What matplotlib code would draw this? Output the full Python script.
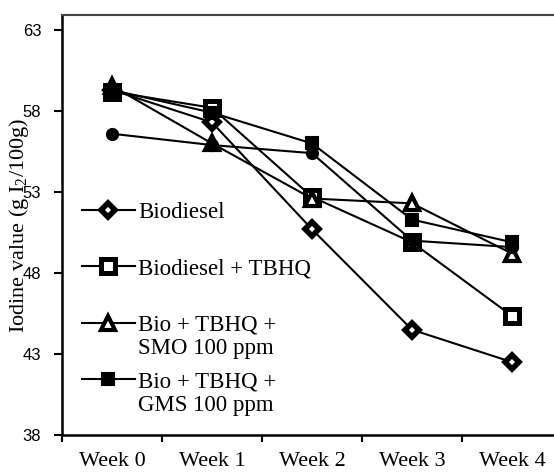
import numpy as np
import matplotlib
matplotlib.use('Agg')
import matplotlib.pyplot as plt

## data
weeks = ['Week 0', 'Week 1', 'Week 2', 'Week 3', 'Week 4']
biodiesel = [59.3, 57.3, 50.7, 44.5, 42.5]
bio_tbhq = [59.2, 58.2, 52.7, 49.9, 45.35]
bio_tbhq_smo = [59.55, 56.0, 52.6, 52.3, 49.2]
bio_tbhq_gms = [59.3, 57.9, 56.0, 51.3, 49.9]
extra_series = [56.6, 55.9, 55.4, 50.0, 49.6]   ## 5th series, no legend entry

labels = ['Biodiesel', 'Biodiesel + TBHQ',
          'Bio + TBHQ +\nSMO 100 ppm', 'Bio + TBHQ +\nGMS 100 ppm']

serif = 'Liberation Serif'
sans = 'Liberation Sans'
plt.rcParams['mathtext.fontset'] = 'custom'
plt.rcParams['mathtext.rm'] = serif

## marker styles (order = drawing order)
styles = [
    dict(marker='D', ms=7, mew=4, mfc='white'),
    dict(marker='s', ms=10, mew=3.6, mfc='white'),
    dict(marker='^', ms=10, mew=3, mfc='white'),
    dict(marker='s', ms=9, mew=1.5, mfc='black'),
    dict(marker='o', ms=8.5, mew=1, mfc='black'),
]
series = [biodiesel, bio_tbhq, bio_tbhq_smo, bio_tbhq_gms, extra_series]

fig = plt.figure(figsize=(5.54, 4.73), dpi=100)
ax = fig.add_axes([62/554, 38/473, 500/554, 420/473])

x = np.arange(len(weeks))
for vals, st in zip(series, styles):
    ax.plot(x, vals, color='black', lw=1.5, mec='black', clip_on=False, **st)

ax.set_xlim(-0.5, 4.5)
ax.set_ylim(38, 63.93)
ax.set_yticks(np.arange(38, 64, 5))
ax.set_xticks(x)
ax.set_xticklabels(weeks, fontfamily=serif, fontsize=16)
ax.set_xticks(np.arange(-0.5, 5, 1), minor=True)
ax.tick_params(axis='x', which='major', length=0, pad=12)
ax.tick_params(axis='x', which='minor', length=5, width=1.5, direction='out')
ax.tick_params(axis='y', length=6, width=1.5, direction='out', pad=9, labelsize=12)
for t in ax.get_yticklabels():
    t.set_fontfamily(sans)

ax.spines['right'].set_visible(False)
ax.spines['left'].set_linewidth(1.8)
ax.spines['bottom'].set_linewidth(1.8)
ax.spines['top'].set_linewidth(1.5)
ax.spines['top'].set_color('#444444')

ax.set_ylabel('Iodine value (g I$_{\\mathrm{2}}$/100g)', fontfamily=serif, fontsize=16)
ax.yaxis.set_label_coords(-0.062, 0.5)

## legend drawn by hand so the key sits on the first text line (like Excel)
leg_top = 0.536
leg_step = 0.1345
for i, (lab, st) in enumerate(zip(labels, styles[:4])):
    yy = leg_top - i * leg_step
    ax.plot([0.04, 0.092, 0.146], [yy] * 3, color='black', lw=1.5, mec='black',
            markevery=[1], transform=ax.transAxes, clip_on=False, **st)
    ax.text(0.152, yy + 0.019, lab, transform=ax.transAxes, va='top', ha='left',
            fontfamily=serif, fontsize=16.5, linespacing=1.15)

fig.savefig('out.png', dpi=100)
